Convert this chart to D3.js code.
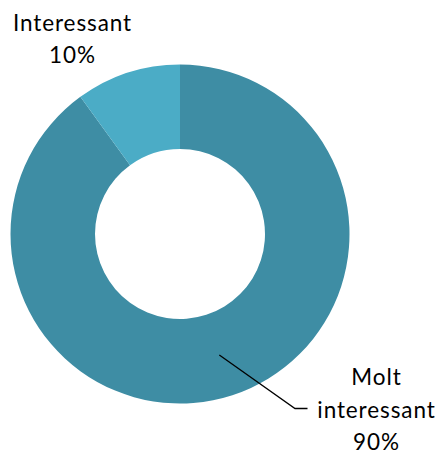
<!DOCTYPE html>
<html><head><meta charset="utf-8">
<script src="https://cdn.jsdelivr.net/npm/d3@7"></script>
<style>html,body{margin:0;padding:0;background:#fff;}</style>
</head><body>
<svg id="chart" width="441" height="452"></svg>
<script>
const categories = ["Molt interessant", "Interessant"];
const values = [90, 10];
const labelLines = [["Molt", "interessant", "90%"], ["Interessant", "10%"]];
const colors = ["#3e8da4", "#4bacc6"];

const svg = d3.select("#chart");
const cx = 180, cy = 234, outerR = 169.5, innerR = 85;
const g = svg.append("g").attr("transform", `translate(${cx},${cy})`);

const pie = d3.pie().sort(null).value(d => d)(values);
const arc = d3.arc().innerRadius(innerR).outerRadius(outerR);

g.selectAll("path").data(pie).join("path")
  .attr("d", arc)
  .attr("fill", (d, i) => colors[i]);

// label layout
const labelPos = [
  {x: 376.5, y: 385, lineH: 32.5},
  {x: 72.5, y: 30.5, lineH: 32.5}
];
const font = "Lato, 'Open Sans', sans-serif";

pie.forEach((d, i) => {
  const p = labelPos[i];
  const t = svg.append("text")
    .attr("text-anchor", "middle")
    .attr("font-family", font)
    .attr("font-size", 22.5)
    .attr("letter-spacing", 0.9)
    .attr("fill", "#000");
  labelLines[i].forEach((ln, j) => {
    t.append("tspan").attr("x", p.x).attr("y", p.y + j * p.lineH).text(ln);
  });
});

// leader line for the big slice
const c = arc.centroid(pie[0]);
const start = [cx + c[0], cy + c[1]];
svg.append("polyline")
  .attr("points", [start, [295, 408.5], [307.5, 408.5]].map(p => p.join(",")).join(" "))
  .attr("fill", "none").attr("stroke", "#000").attr("stroke-width", 1.3);
</script>
</body></html>
